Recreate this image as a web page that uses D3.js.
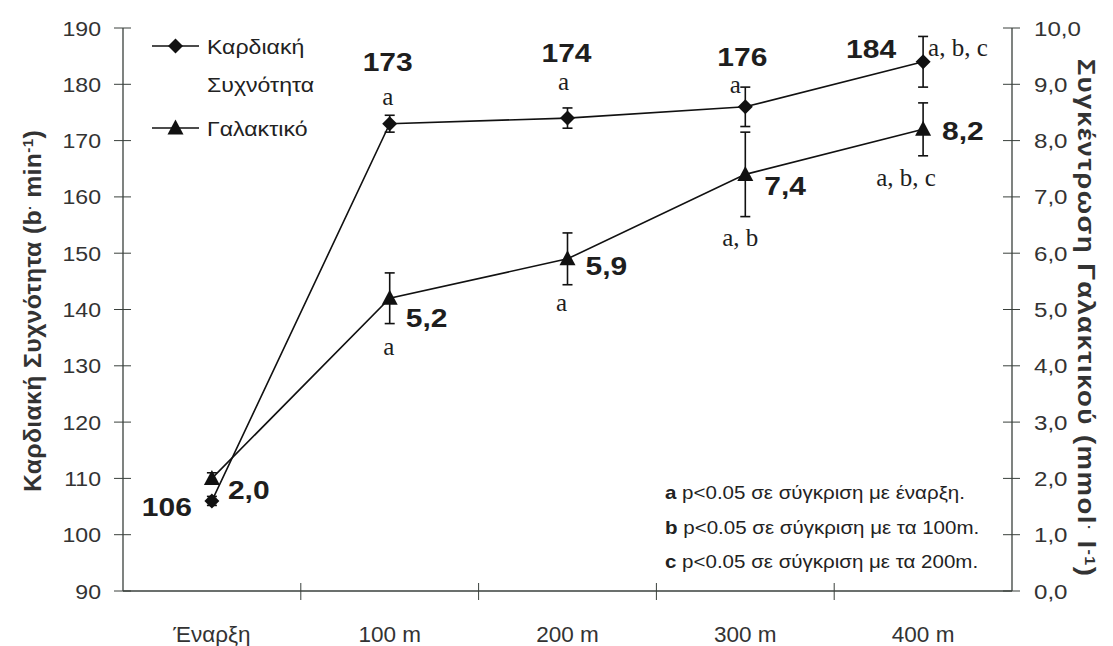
<!DOCTYPE html>
<html>
<head>
<meta charset="utf-8">
<script src="https://cdn.jsdelivr.net/npm/d3@7"></script>
<style>
  body { margin: 0; background: #fff; }
  svg { display: block; }
</style>
</head>
<body>
<svg id="chart" width="1113" height="646"></svg>
<script>
const categories = ["Έναρξη", "100 m", "200 m", "300 m", "400 m"];
const hrValues = [106, 173, 174, 176, 184];
const hrErrors = [0.8, 1.5, 1.8, 3.5, 4.5];
const lacValues = [2.0, 5.2, 5.9, 7.4, 8.2];
const lacErrors = [0.1, 0.45, 0.46, 0.75, 0.47];
const hrLabels = ["106", "173", "174", "176", "184"];
const lacLabels = ["2,0", "5,2", "5,9", "7,4", "8,2"];
const hrSig = ["", "a", "a", "a", "a, b, c"];
const lacSig = ["", "a", "a", "a, b", "a, b, c"];
const leftTicks = [90, 100, 110, 120, 130, 140, 150, 160, 170, 180, 190];
const rightTicks = [0, 1, 2, 3, 4, 5, 6, 7, 8, 9, 10];
const footnotes = [
  {key: "a", text: " p<0.05 σε σύγκριση με έναρξη."},
  {key: "b", text: " p<0.05 σε σύγκριση με τα 100m."},
  {key: "c", text: " p<0.05 σε σύγκριση με τα 200m."}
];

const svg = d3.select("#chart");
const L = 123, R = 1012, T = 28, B = 591;
const axisColor = "#3a403c";
const textColor = "#222";
const sans = "Liberation Sans, Arial, sans-serif";
const serif = "Liberation Serif, Times New Roman, serif";

const x = d3.scaleBand().domain(categories).range([L, R]).padding(0);
const yL = d3.scaleLinear().domain([90, 190]).range([B, T]);
const yR = d3.scaleLinear().domain([0, 10]).range([B, T]);
const cx = d => x(d) + x.bandwidth() / 2;

// text helper: position via transform, with horizontal stretch sx
function txt(parent, xp, yp, s, opt) {
  const o = Object.assign({size: 20, family: sans, weight: "normal", anchor: "start", sx: 1, fill: textColor, rot: 0, ls: 0}, opt);
  return parent.append("text")
    .attr("transform", `translate(${xp},${yp}) rotate(${o.rot}) scale(${o.sx},1)`)
    .attr("text-anchor", o.anchor)
    .attr("font-family", o.family)
    .attr("font-size", o.size)
    .attr("font-weight", o.weight)
    .attr("letter-spacing", o.ls)
    .attr("fill", o.fill)
    .text(s);
}

// Axes lines
svg.append("line").attr("x1", L).attr("x2", L).attr("y1", T).attr("y2", B)
  .attr("stroke", axisColor).attr("stroke-width", 1.3);
svg.append("line").attr("x1", R).attr("x2", R).attr("y1", T).attr("y2", B)
  .attr("stroke", axisColor).attr("stroke-width", 1.3);
svg.append("line").attr("x1", L).attr("x2", R).attr("y1", B).attr("y2", B)
  .attr("stroke", axisColor).attr("stroke-width", 1.3);

// Left ticks
const gl = svg.append("g");
leftTicks.forEach(t => {
  gl.append("line").attr("x1", L - 9).attr("x2", L + 8).attr("y1", yL(t)).attr("y2", yL(t))
    .attr("stroke", axisColor).attr("stroke-width", 1);
  txt(gl, 101, yL(t) + 7.5, String(t), {size: 21, anchor: "end", sx: 1.1, fill: "#333"});
});
// Right ticks
const gr = svg.append("g");
rightTicks.forEach(t => {
  gr.append("line").attr("x1", R - 9).attr("x2", R + 8).attr("y1", yR(t)).attr("y2", yR(t))
    .attr("stroke", axisColor).attr("stroke-width", 1);
  txt(gr, 1034, yR(t) + 7.5, d3.format(".1f")(t).replace(".", ","), {size: 21, sx: 1.15, fill: "#333"});
});
// X ticks (band boundaries)
const gx = svg.append("g");
categories.slice(1).forEach(c => {
  gx.append("line").attr("x1", x(c)).attr("x2", x(c)).attr("y1", B - 8).attr("y2", B + 9)
    .attr("stroke", axisColor).attr("stroke-width", 1);
});
categories.forEach(c => {
  txt(gx, cx(c), 642, c, {size: 22.5, anchor: "middle", fill: "#333"});
});

// Axis titles
const lt = svg.append("text")
  .attr("transform", `translate(41,311) rotate(-90) scale(1.08,1)`)
  .attr("text-anchor", "middle").attr("font-family", sans).attr("letter-spacing", 0.3)
  .attr("font-size", 23).attr("font-weight", "bold").attr("fill", "#333");
lt.append("tspan").text("Καρδιακή Συχνότητα (b");
lt.append("tspan").attr("baseline-shift", "super").attr("font-size", 13).text("·");
lt.append("tspan").text(" min");
lt.append("tspan").attr("baseline-shift", "super").attr("font-size", 14).text("-1");
lt.append("tspan").text(")");

const rt = svg.append("text")
  .attr("transform", `translate(1078,318) rotate(90) scale(1.15,1)`)
  .attr("text-anchor", "middle").attr("font-family", sans).attr("letter-spacing", 1.25)
  .attr("font-size", 24).attr("font-weight", "bold").attr("fill", "#333");
rt.append("tspan").text("Συγκέντρωση Γαλακτικού (mmol");
rt.append("tspan").attr("baseline-shift", "super").attr("font-size", 13).text("·");
rt.append("tspan").text(" l");
rt.append("tspan").attr("baseline-shift", "super").attr("font-size", 14).text("-1");
rt.append("tspan").text(")");

// Lines
const lineHR = d3.line().x((d, i) => cx(categories[i])).y(d => yL(d));
const lineLac = d3.line().x((d, i) => cx(categories[i])).y(d => yR(d));
svg.append("path").attr("d", lineHR(hrValues)).attr("fill", "none").attr("stroke", "#111").attr("stroke-width", 1.6);
svg.append("path").attr("d", lineLac(lacValues)).attr("fill", "none").attr("stroke", "#111").attr("stroke-width", 1.6);

// Error bars
function errBar(xc, yTop, yBot) {
  const g = svg.append("g").attr("stroke", "#111").attr("stroke-width", 1.6);
  g.append("line").attr("x1", xc).attr("x2", xc).attr("y1", yTop).attr("y2", yBot);
  g.append("line").attr("x1", xc - 5).attr("x2", xc + 5).attr("y1", yTop).attr("y2", yTop);
  g.append("line").attr("x1", xc - 5).attr("x2", xc + 5).attr("y1", yBot).attr("y2", yBot);
}
hrValues.forEach((v, i) => errBar(cx(categories[i]), yL(v + hrErrors[i]), yL(v - hrErrors[i])));
lacValues.forEach((v, i) => errBar(cx(categories[i]), yR(v + lacErrors[i]), yR(v - lacErrors[i])));

// Markers
const diamond = "M0,-7.5L7.5,0L0,7.5L-7.5,0Z";
const triangle = "M0,-8.5L8,6.5L-8,6.5Z";
hrValues.forEach((v, i) => {
  svg.append("path").attr("d", diamond).attr("fill", "#111")
    .attr("transform", `translate(${cx(categories[i])},${yL(v)})`);
});
lacValues.forEach((v, i) => {
  svg.append("path").attr("d", triangle).attr("fill", "#111")
    .attr("transform", `translate(${cx(categories[i])},${yR(v)})`);
});

// Value labels
function boldLabel(xp, yp, s, anchor) {
  txt(svg, xp, yp, s, {size: 25, weight: "bold", anchor: anchor, sx: 1.2, fill: "#1e1e1e"});
}
function sigLabel(xp, yp, s, anchor) {
  txt(svg, xp, yp, s, {size: 25, family: serif, anchor: anchor, fill: "#1e1e1e"});
}
const hrLabelPos = [
  {dx: -20, dy: 15, a: "end"},
  {dx: -2, dy: -53, a: "middle"},
  {dx: -1, dy: -56, a: "middle"},
  {dx: -3, dy: -41, a: "middle"},
  {dx: -52, dy: -4, a: "middle"}
];
hrValues.forEach((v, i) => {
  const p = hrLabelPos[i];
  boldLabel(cx(categories[i]) + p.dx, yL(v) + p.dy, hrLabels[i], p.a);
});
const hrSigPos = [null, {dx: -2, dy: -19, a: "middle"}, {dx: -4, dy: -28, a: "middle"}, {dx: -10, dy: -14, a: "middle"}, {dx: 5, dy: -6, a: "start"}];
hrValues.forEach((v, i) => {
  const p = hrSigPos[i];
  if (!p) return;
  sigLabel(cx(categories[i]) + p.dx, yL(v) + p.dy, hrSig[i], p.a);
});
const lacLabelPos = [
  {dx: 16, dy: 21},
  {dx: 16, dy: 29},
  {dx: 18, dy: 16},
  {dx: 19, dy: 21},
  {dx: 19, dy: 11}
];
lacValues.forEach((v, i) => {
  const p = lacLabelPos[i];
  boldLabel(cx(categories[i]) + p.dx, yR(v) + p.dy, lacLabels[i], "start");
});
const lacSigPos = [null, {dx: -1, dy: 57}, {dx: -6, dy: 52}, {dx: -5, dy: 72}, {dx: -17, dy: 57}];
lacValues.forEach((v, i) => {
  const p = lacSigPos[i];
  if (!p) return;
  sigLabel(cx(categories[i]) + p.dx, yR(v) + p.dy, lacSig[i], "middle");
});

// Legend
const lg = svg.append("g");
const legendItems = [
  {y: 46, shape: diamond, lines: ["Καρδιακή", "Συχνότητα"]},
  {y: 128, shape: triangle, lines: ["Γαλακτικό"]}
];
legendItems.forEach(it => {
  lg.append("line").attr("x1", 152).attr("x2", 199).attr("y1", it.y).attr("y2", it.y)
    .attr("stroke", "#111").attr("stroke-width", 1.6);
  lg.append("path").attr("d", it.shape).attr("fill", "#111")
    .attr("transform", `translate(175.5,${it.y})`);
  it.lines.forEach((ln, j) => {
    txt(lg, 207, it.y + 8 + j * 37.5, ln, {size: 21, sx: 1.1});
  });
});

// Footnotes
footnotes.forEach((f, i) => {
  const t = svg.append("text")
    .attr("transform", `translate(665,${499 + i * 34.5}) scale(1.14,1)`)
    .attr("font-family", sans).attr("font-size", 18).attr("fill", "#222");
  t.append("tspan").attr("font-weight", "bold").text(f.key);
  t.append("tspan").text(f.text);
});
</script>
</body>
</html>
